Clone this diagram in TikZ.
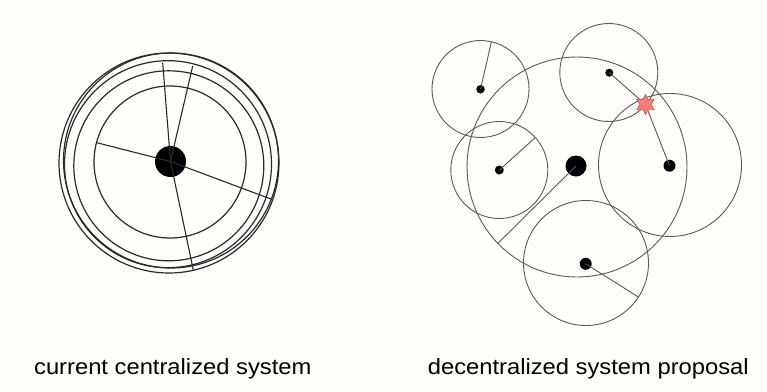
\documentclass[tikz,border=0pt]{standalone}
\usepackage{fontspec}
\setmainfont{Liberation Sans}
\usetikzlibrary{shapes.geometric}
\definecolor{bgc}{HTML}{FDFDFA}
\definecolor{ringL}{HTML}{2A2A2A}
\definecolor{ringR}{HTML}{5A5A5A}
\definecolor{starfill}{HTML}{F2807A}
\definecolor{stardraw}{HTML}{E0504A}
\tikzset{
  ringl/.style={circle, draw=ringL, line width=1.2pt, minimum size=#1, inner sep=0pt, outer sep=0pt},
  ringr/.style={circle, draw=ringR, line width=0.9pt, minimum size=#1, inner sep=0pt, outer sep=0pt},
  dot/.style={circle, fill=black, minimum size=#1, inner sep=0pt, outer sep=0pt},
  spokel/.style={draw=ringL, line width=1.1pt},
  spoker/.style={draw=ringR, line width=0.9pt},
  caption/.style={anchor=base, inner sep=0pt, font=\fontsize{22}{26}\selectfont},
  burst/.style={star, star points=6, star point ratio=1.8, fill=starfill, draw=stardraw, line width=0.6pt, minimum size=20pt, inner sep=0pt}
}
\begin{document}
\begin{tikzpicture}[x=1pt,y=-1pt]
\fill[bgc] (0,0) rectangle (767,391);
\useasboundingbox (0,0) rectangle (767,391);

% ---------- left: centralized ----------
\node[ringl=220pt] (la) at (169,163) {};
\node[ringl=215pt] (la2) at (171,160.5) {};
\node[ringl=207pt] (lb) at (168,164.2) {};
\node[ringl=190pt] (lc) at (168.8,165.8) {};
\node[ringl=152pt] (li) at (170,162) {};
\node[dot=31pt] (ld) at (170.5,161.5) {};
\coordinate (s1) at (162.7,62.7);
\coordinate (s2) at (192.7,66);
\coordinate (s3) at (96.7,142.7);
\coordinate (s4) at (271.7,199.3);
\coordinate (s5) at (193.3,270);
\foreach \s in {s1,s2,s3,s4,s5} \draw[spokel] (ld.center) -- (\s);

% ---------- right: decentralized ----------
\node[ringr=220pt] (big) at (577,167) {};
\node[ringr=97pt] (tl) at (480.5,89) {};
\node[ringr=97pt] (ml) at (499.3,170) {};
\node[ringr=98pt] (tr) at (608.8,72.5) {};
\node[ringr=143pt] (rr) at (670,165) {};
\node[ringr=125pt] (bo) at (586,263) {};

\node[dot=21pt] (bigd) at (576,166) {};
\node[dot=8.5pt] (tld) at (480.5,89.3) {};
\node[dot=9pt] (mld) at (499.3,170) {};
\node[dot=8pt] (trd) at (609.3,72.7) {};
\node[dot=12pt] (rrd) at (669.5,165.7) {};
\node[dot=12pt] (bod) at (585.7,263.8) {};

\draw[spoker] (tld.center) -- (tl.77);
\draw[spoker] (mld.center) -- (ml.42);
\draw[spoker] (bigd.center) -- (big.224);
\draw[spoker] (bod.center) -- (bo.-33);

\coordinate (stc) at (645.5,104.5);
\draw[spoker] (trd.center) -- (stc);
\draw[spoker] (rrd.center) -- (stc);
\node[burst] (st) at (stc) {};

% ---------- captions ----------
\node[caption] (cap1) at (172.8,374) {\scalebox{1.08}[1]{current centralized system}};
\node[caption] (cap2) at (588.3,374) {\scalebox{1.08}[1]{decentralized system proposal}};
\end{tikzpicture}
\end{document}
